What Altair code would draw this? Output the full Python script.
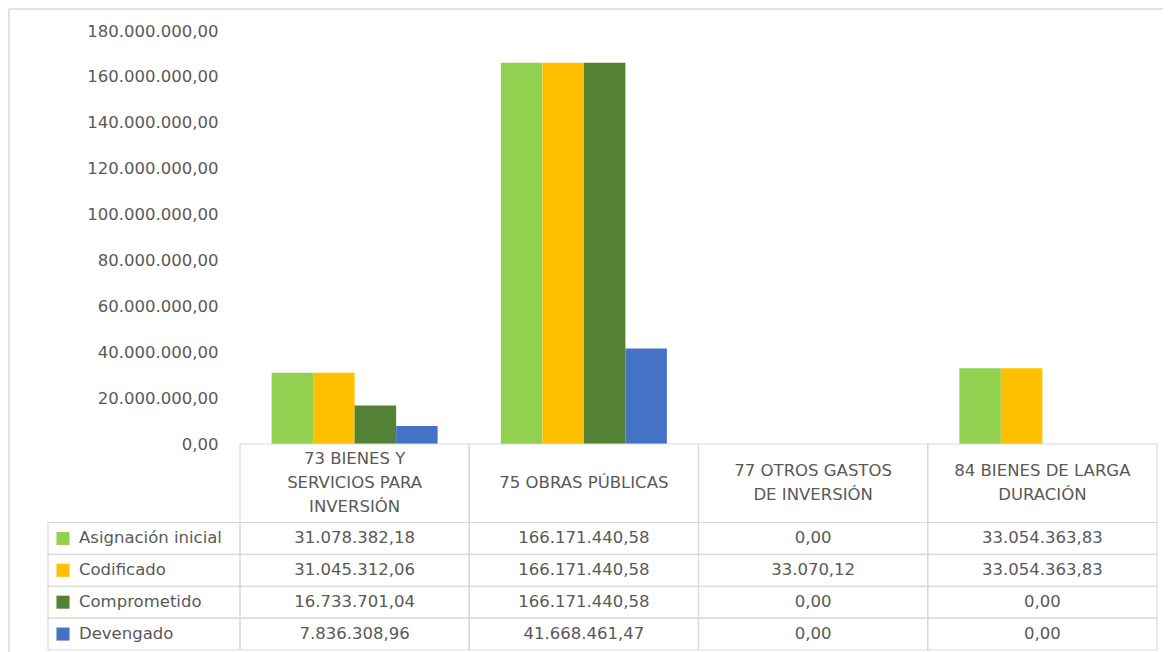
import altair as alt
import pandas as pd

categories = ["73", "75", "77", "84"]
headers = [
    "73 BIENES Y\nSERVICIOS PARA\nINVERSIÓN",
    "75 OBRAS PÚBLICAS",
    "77 OTROS GASTOS\nDE INVERSIÓN",
    "84 BIENES DE LARGA\nDURACIÓN",
]
series = ["Asignación inicial", "Codificado", "Comprometido", "Devengado"]
colors = ["#92D050", "#FFC000", "#548235", "#4472C4"]

asignacion = [31078382.18, 166171440.58, 0.00, 33054363.83]
codificado = [31045312.06, 166171440.58, 33070.12, 33054363.83]
comprometido = [16733701.04, 166171440.58, 0.00, 0.00]
devengado = [7836308.96, 41668461.47, 0.00, 0.00]

y_ticks = [0, 20e6, 40e6, 60e6, 80e6, 100e6, 120e6, 140e6, 160e6, 180e6]


def fmt(v):
    s = f"{v:,.2f}"
    return s.replace(",", "#").replace(".", ",").replace("#", ".")


rows = []
for s, vals in zip(series, [asignacion, codificado, comprometido, devengado]):
    for c, v in zip(categories, vals):
        rows.append({"cat": c, "series": s, "value": v, "label": fmt(v)})
df = pd.DataFrame(rows)
hdr = pd.DataFrame({
    "cat": categories,
    "header": headers,
    "h": ["h"] * 4,
    "nl": [h.count("\n") + 1 for h in headers],
})
leg = pd.DataFrame({"series": series, "lc": ["l"] * 4})

FONT = "DejaVu Sans"
TXT = "#595959"
GRID = "#D9D9D9"
FS = 16.5
LH = 24

xcat = alt.X("cat:N", scale=alt.Scale(domain=categories, paddingInner=0, paddingOuter=0), axis=None)
yrow = alt.Y("series:N", scale=alt.Scale(domain=series, range=[491.5, 619], paddingInner=0, paddingOuter=0), axis=None)
color = alt.Color("series:N", scale=alt.Scale(domain=series, range=colors), legend=None)

label_expr = (
    "replace(replace(replace(format(datum.value, ',.2f'), regexp(',', 'g'), '#'), "
    "regexp('[.]', 'g'), ','), regexp('#', 'g'), '.')"
)

bars = alt.Chart(df).mark_bar().encode(
    x=xcat,
    xOffset=alt.XOffset("series:N", scale=alt.Scale(domain=series, paddingInner=0, paddingOuter=0.762)),
    y=alt.Y(
        "value:Q",
        scale=alt.Scale(domain=[0, 180e6], range=[413, 0], nice=False),
        axis=alt.Axis(
            values=y_ticks, labelExpr=label_expr, grid=False, domain=False, ticks=False,
            labelPadding=22, labelFontSize=FS, labelFont=FONT, labelColor=TXT, title=None,
        ),
    ),
    color=color,
)

cells = alt.Chart(df).mark_rect(fill="white", fillOpacity=0, stroke=GRID, strokeWidth=1.2).encode(
    x=xcat, y=yrow
)
cell_text = alt.Chart(df).mark_text(font=FONT, fontSize=FS, color=TXT, baseline="middle").encode(
    x=xcat, y=yrow, text="label:N"
)

yhdr = alt.Y("h:N", scale=alt.Scale(domain=["h"], range=[413, 491.5], paddingInner=0, paddingOuter=0), axis=None)
hdr_cells = alt.Chart(hdr).mark_rect(fill="white", fillOpacity=0, stroke=GRID, strokeWidth=1.2).encode(
    x=xcat, y=yhdr
)
hdr_texts = []
for n in [1, 2, 3]:
    hdr_texts.append(
        alt.Chart(hdr).transform_filter(alt.datum.nl == n).mark_text(
            font=FONT, fontSize=FS, color=TXT, baseline="middle", lineBreak="\n",
            lineHeight=LH, dy=-(n - 1) * LH / 2,
        ).encode(x=xcat, y=yhdr, text="header:N")
    )

xleg = alt.X("lc:N", scale=alt.Scale(domain=["l"], range=[-192, 0], paddingInner=0, paddingOuter=0), axis=None)
leg_cells = alt.Chart(leg).mark_rect(fill="white", fillOpacity=0, stroke=GRID, strokeWidth=1.2).encode(
    x=xleg, y=yrow
)
leg_sq = alt.Chart(leg).mark_square(size=170, opacity=1, xOffset=-81).encode(
    x=xleg, y=yrow, color=color
)
leg_text = alt.Chart(leg).mark_text(
    font=FONT, fontSize=FS, color=TXT, baseline="middle", align="left", dx=-65
).encode(x=xleg, y=yrow, text="series:N")

one = pd.DataFrame({"a": [0]})
frame_top = alt.Chart(one).mark_rule(color=GRID, strokeWidth=1.5).encode(
    x=alt.value(-231), x2=alt.value(923), y=alt.value(-22)
)
frame_left = alt.Chart(one).mark_rule(color=GRID, strokeWidth=1.5).encode(
    x=alt.value(-231), y=alt.value(-22), y2=alt.value(621)
)

chart = (
    alt.layer(frame_top, frame_left, bars, cells, cell_text, hdr_cells, *hdr_texts,
              leg_cells, leg_sq, leg_text)
    .resolve_scale(x="independent", y="independent", color="shared")
    .properties(
        width=917,
        height=619,
        autosize=alt.AutoSizeParams(type="none"),
        padding={"left": 232, "top": 23, "right": 6, "bottom": 2},
    )
    .configure_view(stroke=None)
)

chart.save("out.html", embed_options={"renderer": "svg", "actions": False})
